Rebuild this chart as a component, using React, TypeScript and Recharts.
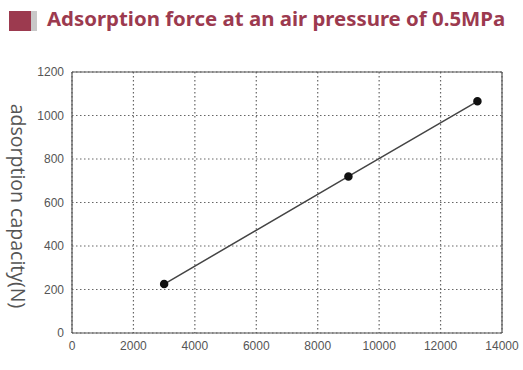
import React from 'react';
import { LineChart, Line, XAxis, YAxis, CartesianGrid, ReferenceLine } from 'recharts';

const airFlow = [3000, 9000, 13200];
const capacity = [225, 720, 1065];
const xTicks = [0, 2000, 4000, 6000, 8000, 10000, 12000, 14000];
const yTicks = [0, 200, 400, 600, 800, 1000, 1200];

const data = airFlow.map((x, i) => ({ x, y: capacity[i] }));

const AXIS = '#555';
const TITLE = '#9c3a4f';
const tickStyle = { fontSize: 12, fill: '#555', fontFamily: 'Liberation Sans, Arial, sans-serif' };

export default function App() {
  return (
    <div style={{ position: 'absolute', left: 0, top: 0, width: 523, height: 370, background: '#fff' }}>
      <div style={{ position: 'absolute', left: 9, top: 11, width: 22, height: 20, background: TITLE }} />
      <div style={{ position: 'absolute', left: 31, top: 11, width: 6, height: 20, background: '#c8c8c8' }} />
      <div
        style={{
          position: 'absolute',
          left: 47,
          top: 4,
          fontFamily: 'Noto Sans, sans-serif',
          fontWeight: 700,
          fontSize: 20.4,
          color: TITLE,
          whiteSpace: 'nowrap',
        }}
      >
        Adsorption force at an air pressure of 0.5MPa
      </div>
      <LineChart width={523} height={370} data={data} margin={{ top: 72, right: 21, left: 0, bottom: 0 }}>
        <CartesianGrid stroke="#666" strokeDasharray="1.5 2.5" strokeWidth={1.2} />
        <ReferenceLine y={1200} stroke={AXIS} strokeWidth={1.2} />
        <ReferenceLine x={14000} stroke={AXIS} strokeWidth={1.2} />
        <XAxis
          dataKey="x"
          type="number"
          domain={[0, 14000]}
          ticks={xTicks}
          height={37}
          tickSize={0}
          tickMargin={8}
          stroke={AXIS}
          strokeWidth={1.2}
          tick={tickStyle}
          interval={0}
        />
        <YAxis
          type="number"
          domain={[0, 1200]}
          ticks={yTicks}
          width={72}
          tickSize={0}
          tickMargin={8}
          stroke={AXIS}
          strokeWidth={1.2}
          tick={tickStyle}
          interval={0}
          label={{
            content: () => (
              <text
                x={18}
                y={206}
                transform="rotate(90 18 206)"
                textAnchor="middle"
                dominantBaseline="central"
                fontFamily="Open Sans, sans-serif"
                fontWeight={400}
                fontSize={19.5}
                fill="#555"
              >
                adsorption capacity(N)
              </text>
            ),
          }}
        />
        <Line
          dataKey="y"
          stroke="#444"
          strokeWidth={1.5}
          dot={{ r: 3.5, fill: '#111', stroke: '#111' }}
          isAnimationActive={false}
        />
      </LineChart>
    </div>
  );
}
